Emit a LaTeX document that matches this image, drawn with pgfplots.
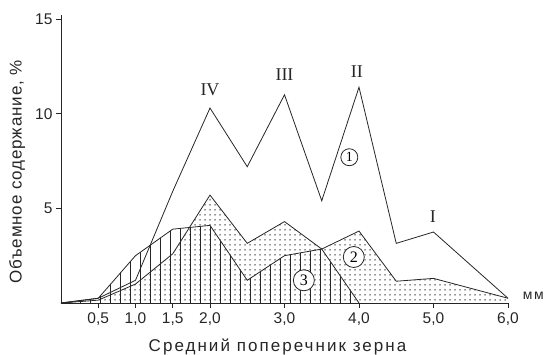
\documentclass[border=0pt]{standalone}
\usepackage{pgfplots}
\pgfplotsset{compat=1.18}
\usepackage{pgfplotstable}
\usepackage{fontspec}
\setmainfont{Liberation Sans}
\newfontfamily\romfont{Liberation Serif}
\newfontfamily\xlabfont[LetterSpace=12]{Liberation Sans}
\newfontfamily\ylabfont[LetterSpace=5]{Liberation Sans}
\usetikzlibrary{patterns.meta}

\pgfplotstableread{
x y
0 0
0.5 0.25
1.0 1.2
1.5 5.9
2.0 10.3
2.5 7.2
3.0 11.0
3.5 5.4
4.0 11.4
4.5 3.15
5.0 3.75
6.0 0.25
}\curveI

\pgfplotstableread{
x y
0 0
0.5 0.15
1.0 1.0
1.5 2.6
2.0 5.7
2.5 3.15
3.0 4.3
3.5 2.85
4.0 3.8
4.5 1.15
5.0 1.3
6.0 0.25
}\curveII

\pgfplotstableread{
x y
0 0
0.5 0.25
1.0 2.5
1.25 3.2
1.5 3.9
2.0 4.1
2.5 1.2
3.0 2.5
3.5 2.85
4.0 0
}\curveIII

\begin{document}
\begin{tikzpicture}
\path[use as bounding box] (-61pt,-52pt) rectangle (488pt,303pt);
\begin{axis}[
  at={(0pt,0pt)}, anchor=south west,
  x=74.5pt, y=18.93pt,
  xmin=0, xmax=6, ymin=0, ymax=15.2,
  axis lines=left,
  axis line style={-, line width=0.8pt, black!85},
  tick style={line width=0.8pt, black!85},
  tick align=outside,
  major tick length=5pt,
  xtick={0.5,1,1.5,2,3,4,5,6},
  xticklabels={{0,5},{1,0},{1,5},{2,0},{3,0},{4,0},{5,0},{6,0}},
  ytick={5,10,15},
  yticklabels={5,10,15},
  /pgf/number format/assume math mode=true,
  ticklabel style={font=\fontsize{15.5}{15.5}\selectfont, text=black!85},
  xticklabel style={yshift=-1pt},
  clip=false,
]
\addplot[draw=none, pattern={Dots[radius=0.75pt, distance=5pt]}, pattern color=black!85] table {\curveII} \closedcycle;
\addplot[draw=none, pattern={Lines[angle=90, distance=10pt, line width=0.6pt]}, pattern color=black!85] table {\curveIII} \closedcycle;
\addplot[black!85, line width=0.8pt] table {\curveI};
\addplot[black!85, line width=0.8pt] table {\curveII};
\addplot[black!85, line width=0.8pt] table {\curveIII};

\node[font=\romfont\fontsize{18}{18}\selectfont, text=black!85] at (axis cs:2.0,11.25) {IV};
\node[font=\romfont\fontsize{18}{18}\selectfont, text=black!85] at (axis cs:3.0,12.05) {III};
\node[font=\romfont\fontsize{18}{18}\selectfont, text=black!85] at (axis cs:3.97,12.2) {II};
\node[font=\romfont\fontsize{18}{18}\selectfont, text=black!85] at (axis cs:4.99,4.55) {I};

\node[draw=black!85, line width=0.8pt, circle, fill=white, inner sep=0pt, minimum size=17pt, font=\romfont\fontsize{14}{14}\selectfont] at (axis cs:3.87,7.7) {1};
\node[draw=black!85, line width=0.8pt, circle, fill=white, inner sep=0pt, minimum size=21pt, font=\romfont\fontsize{16}{16}\selectfont] at (axis cs:3.93,2.43) {2};
\node[draw=black!85, line width=0.8pt, circle, fill=white, inner sep=0pt, minimum size=21pt, font=\romfont\fontsize{16}{16}\selectfont] at (axis cs:3.26,1.2) {3};

\node[font=\xlabfont\fontsize{14}{14}\selectfont, text=black!85] at (axis cs:6.34,0.4) {мм};
\node[font=\xlabfont\fontsize{17}{17}\selectfont, text=black!85] at (axis cs:2.906,-2.3) {Средний поперечник зерна};
\node[font=\ylabfont\fontsize{17}{17}\selectfont, text=black!85, rotate=90] at (axis cs:-0.59,6.92) {Объемное содержание, \%};
\end{axis}
\end{tikzpicture}
\end{document}
